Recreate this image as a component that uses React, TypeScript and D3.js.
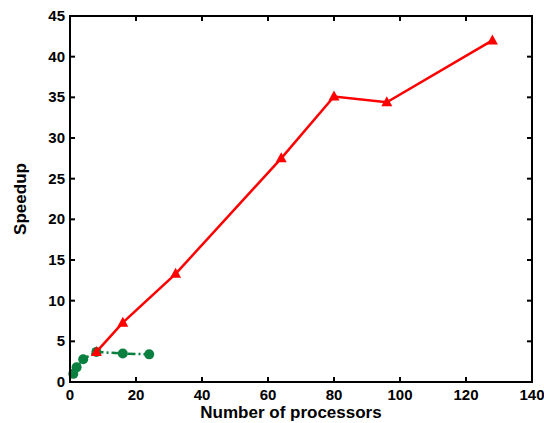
import React from "react";
import * as d3 from "d3";

const redX = [8, 16, 32, 64, 80, 96, 128];
const redY = [3.7, 7.3, 13.3, 27.5, 35.1, 34.4, 42.0];
const greenX = [1, 2, 4, 8, 16, 24];
const greenY = [1.0, 1.8, 2.8, 3.7, 3.5, 3.4];
const xTicks = [0, 20, 40, 60, 80, 100, 120, 140];
const yTicks = [0, 5, 10, 15, 20, 25, 30, 35, 40, 45];

export default function App() {
  const L = 70, R = 532, T = 16, B = 382;
  const x = d3.scaleLinear().domain([0, 140]).range([L, R]);
  const y = d3.scaleLinear().domain([0, 45]).range([B, T]);
  const line = d3.line<number>().x((_, i) => 0).y(() => 0);
  const path = (xs: number[], ys: number[]) =>
    d3.line<number>().x((d) => x(d)).y((_, i) => y(ys[i]))(xs) as string;
  const font = "Liberation Sans, Arial, sans-serif";
  return (
    <svg width={544} height={423} style={{ position: "absolute", left: 0, top: 0 }}>
      <rect width={544} height={423} fill="#fff" />
      <path d={path(greenX, greenY)} fill="none" stroke="#0a8040" strokeWidth={2.5} strokeDasharray="8,3,2,3" />
      {greenX.map((d, i) => (
        <circle key={i} cx={x(d)} cy={y(greenY[i])} r={5} fill="#0a8040" />
      ))}
      <path d={path(redX, redY)} fill="none" stroke="#ff0000" strokeWidth={2.5} />
      {redX.map((d, i) => {
        const cx = x(d), cy = y(redY[i]);
        return <path key={i} d={`M${cx},${cy - 6}L${cx + 5.5},${cy + 4}L${cx - 5.5},${cy + 4}Z`} fill="#ff0000" />;
      })}
      <rect x={L} y={T} width={R - L} height={B - T} fill="none" stroke="#000" strokeWidth={2} />
      {xTicks.map((t) => (
        <g key={t}>
          <line x1={x(t)} x2={x(t)} y1={B} y2={B - 5} stroke="#000" strokeWidth={2} />
          <line x1={x(t)} x2={x(t)} y1={T} y2={T + 5} stroke="#000" strokeWidth={2} />
          <text x={x(t)} y={B + 18} textAnchor="middle" fontFamily={font} fontWeight="bold" fontSize={15}>{t}</text>
        </g>
      ))}
      {yTicks.map((t) => (
        <g key={t}>
          <line x1={L} x2={L + 5} y1={y(t)} y2={y(t)} stroke="#000" strokeWidth={2} />
          <line x1={R} x2={R - 5} y1={y(t)} y2={y(t)} stroke="#000" strokeWidth={2} />
          <text x={L - 5} y={y(t) + 5} textAnchor="end" fontFamily={font} fontWeight="bold" fontSize={15}>{t}</text>
        </g>
      ))}
      <text x={(L + R) / 2 - 10} y={418} textAnchor="middle" fontFamily={font} fontWeight="bold" fontSize={17}>Number of processors</text>
      <text transform={`translate(26,${(T + B) / 2}) rotate(-90)`} textAnchor="middle" fontFamily={font} fontWeight="bold" fontSize={17}>Speedup</text>
    </svg>
  );
}
